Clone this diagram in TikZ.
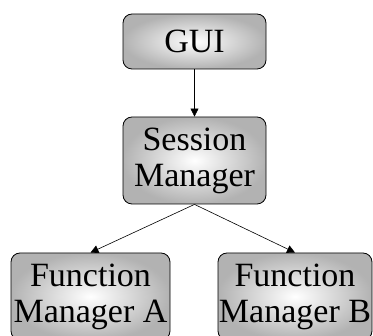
\documentclass[tikz,border=0pt]{standalone}
\usepackage{fontspec}
\setmainfont{Liberation Serif}
\usetikzlibrary{arrows.meta}
\begin{document}
\begin{tikzpicture}[x=1pt,y=-1pt,
  box/.style={draw=black, line width=0.8pt, rounded corners=9pt, inner sep=0pt,
    shading=radial, inner color=white, outer color=gray!60,
    align=center, font=\fontsize{34}{36}\selectfont},
  conn/.style={draw=black, line width=0.6pt, -{Triangle[length=8pt,width=8pt]}}]
\useasboundingbox (0,0) rectangle (373,336);
\node[box, minimum width=143pt, minimum height=55pt] (gui) at (194.5,41.5) {GUI};
\node[box, minimum width=143pt, minimum height=87pt] (sm) at (194.5,160.5) {Session\\Manager};
\node[box, minimum width=159pt, minimum height=87pt] (fa) at (90.5,296.5) {Function\\Manager A};
\node[box, minimum width=154pt, minimum height=87pt] (fb) at (295,296.5) {Function\\Manager B};
\draw[conn] (gui.south) -- (sm.north);
\draw[conn] (sm.south) -- (fa.north);
\draw[conn] (sm.south) -- (fb.north);
\end{tikzpicture}
\end{document}
